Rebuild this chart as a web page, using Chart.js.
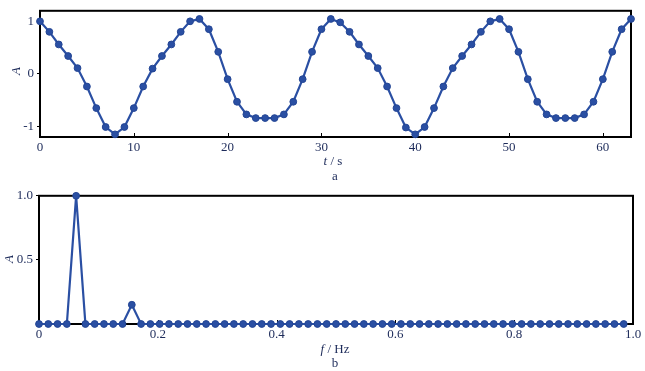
<!DOCTYPE html>
<html>
<head>
<meta charset="utf-8">
<script src="https://cdn.jsdelivr.net/npm/chart.js@4.4.1/dist/chart.umd.min.js"></script>
<style>
  body { margin: 0; background: #fff; }
  #wrap { position: relative; width: 645px; height: 371px; font-family: 'Liberation Serif', serif; color: #1d2b5a; }
  .box { position: absolute; left: 0; width: 645px; }
  .lbl { position: absolute; font-size: 13px; line-height: 13px; white-space: nowrap; transform: translate(-50%, -50%); }
  .rot { transform: translate(-50%, -50%) rotate(-90deg); }
</style>
</head>
<body>
<div id="wrap">
  <div class="box" style="top:0;height:185px"><canvas id="chartA"></canvas></div>
  <div class="box" style="top:185px;height:186px"><canvas id="chartB"></canvas></div>
  <div class="lbl rot" style="left:15px;top:71px"><i>A</i></div>
  <div class="lbl" style="left:333px;top:160px"><i>t</i> / s</div>
  <div class="lbl" style="left:335px;top:175px">a</div>
  <div class="lbl rot" style="left:8px;top:259px"><i>A</i></div>
  <div class="lbl" style="left:335px;top:348px"><i>f</i> / Hz</div>
  <div class="lbl" style="left:335px;top:362px">b</div>
</div>
<script>
// signal a: amplitude sampled every 1 s (t = 0..63)
const signalA = [
  1.00, 0.80, 0.56, 0.34, 0.11, -0.24, -0.65, -1.01,
  -1.15, -1.01, -0.65, -0.24, 0.10, 0.34, 0.56, 0.80,
  1.00, 1.045, 0.85, 0.42, -0.10, -0.53, -0.77, -0.84,
  -0.84, -0.84, -0.77, -0.53, -0.10, 0.42, 0.85, 1.045,
  0.98, 0.80, 0.56, 0.34, 0.11, -0.24, -0.65, -1.02,
  -1.15, -1.01, -0.65, -0.24, 0.11, 0.34, 0.56, 0.80,
  1.00, 1.045, 0.85, 0.42, -0.10, -0.53, -0.77, -0.84,
  -0.84, -0.84, -0.77, -0.53, -0.10, 0.42, 0.85, 1.045
];
// spectrum b: amplitude per frequency bin (step 1/64 Hz)
const spectrumB = [
  0, 0, 0, 0, 1.0, 0, 0, 0, 0, 0, 0.15, 0, 0, 0, 0, 0,
  0, 0, 0, 0, 0, 0, 0, 0, 0, 0, 0, 0, 0, 0, 0, 0,
  0, 0, 0, 0, 0, 0, 0, 0, 0, 0, 0, 0, 0, 0, 0, 0,
  0, 0, 0, 0, 0, 0, 0, 0, 0, 0, 0, 0, 0, 0, 0, 0
];
const freqStep = 1 / 64;
const timeTicks = [0, 10, 20, 30, 40, 50, 60];
const ampTicksA = [-1, 0, 1];
const freqTicks = [0, 0.2, 0.4, 0.6, 0.8, 1.0];
const ampTicksB = [0.5, 1.0];

const blue = '#2a4fa3';
const textColor = '#1d2b5a';
const tickFont = { family: 'Liberation Serif', size: 13 };

// black frame round the plot area, plus small inward ticks on x
const framePlugin = {
  id: 'frame',
  beforeDatasetsDraw(chart) {
    const a = chart.chartArea;
    const ctx = chart.ctx;
    const xs = chart.scales.x;
    ctx.save();
    ctx.strokeStyle = '#000';
    ctx.lineWidth = 2;
    ctx.strokeRect(a.left, a.top, a.right - a.left, a.bottom - a.top);
    ctx.lineWidth = 1;
    xs.ticks.forEach(function (t) {
      const px = Math.round(xs.getPixelForValue(t.value)) + 0.5;
      ctx.beginPath();
      ctx.moveTo(px, a.bottom);
      ctx.lineTo(px, a.bottom - 4);
      ctx.stroke();
    });
    ctx.restore();
  }
};

function makeChart(id, points, opt) {
  return new Chart(document.getElementById(id), {
    type: 'line',
    data: {
      datasets: [{
        data: points,
        borderColor: blue,
        backgroundColor: blue,
        borderWidth: 2.2,
        pointRadius: 3.4,
        pointBorderWidth: 1,
        pointBorderColor: '#234594',
        pointBackgroundColor: blue,
        tension: 0,
        clip: false
      }]
    },
    options: {
      responsive: true,
      maintainAspectRatio: false,
      animation: false,
      layout: { padding: opt.padding },
      plugins: { legend: { display: false }, tooltip: { enabled: false } },
      scales: {
        x: {
          type: 'linear',
          min: opt.xMin, max: opt.xMax,
          border: { display: false },
          grid: { drawOnChartArea: false, drawTicks: false },
          afterBuildTicks: function (s) { s.ticks = opt.xTicks.map(function (v) { return { value: v }; }); },
          afterFit: function (s) { s.height = opt.xHeight; },
          ticks: { padding: 3, maxRotation: 0, font: tickFont, color: textColor, callback: opt.xFmt }
        },
        y: {
          min: opt.yMin, max: opt.yMax,
          border: { display: false },
          grid: { drawOnChartArea: false, drawTicks: true, tickLength: 3, color: '#000' },
          afterBuildTicks: function (s) { s.ticks = opt.yTicks.map(function (v) { return { value: v }; }); },
          afterFit: function (s) { s.width = opt.yWidth; },
          ticks: { padding: 3, font: tickFont, color: textColor, callback: opt.yFmt }
        }
      }
    },
    plugins: [framePlugin]
  });
}

makeChart('chartA', signalA.map(function (v, i) { return { x: i, y: v }; }), {
  padding: { left: 0, right: 14, top: 5, bottom: 0 },
  xMin: 0, xMax: 63, xTicks: timeTicks, xHeight: 48,
  yMin: -1.2, yMax: 1.2, yTicks: ampTicksA, yWidth: 40,
  xFmt: function (v) { return String(v); },
  yFmt: function (v) { return String(v); }
});

makeChart('chartB', spectrumB.map(function (v, i) { return { x: i * freqStep, y: v }; }), {
  padding: { left: 0, right: 12, top: 8, bottom: 0 },
  xMin: 0, xMax: 1, xTicks: freqTicks, xHeight: 47,
  yMin: 0, yMax: 1, yTicks: ampTicksB, yWidth: 39,
  xFmt: function (v) { return v === 0 ? '0' : v.toFixed(1); },
  yFmt: function (v) { return v.toFixed(1); }
});
</script>
</body>
</html>
